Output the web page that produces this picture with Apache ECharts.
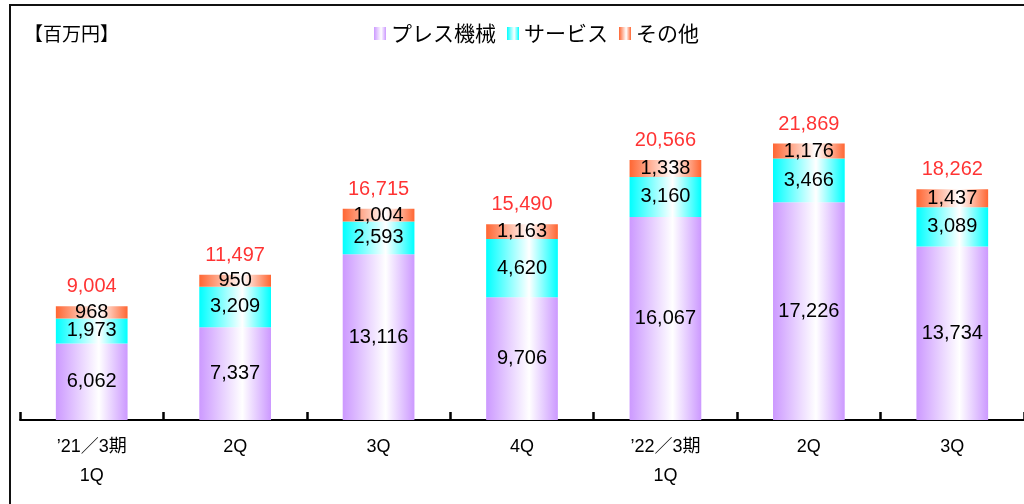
<!DOCTYPE html>
<html><head><meta charset="utf-8">
<script src="https://cdn.jsdelivr.net/npm/echarts@6/dist/echarts.min.js"></script>
<style>html,body{margin:0;padding:0;background:#fff}#c{width:1024px;height:504px}</style>
</head><body><div id="c"></div>
<script>
const categories = ['’21／3期\n1Q', '2Q', '3Q', '4Q', '’22／3期\n1Q', '2Q', '3Q'];
const seriesNames = ['プレス機械', 'サービス', 'その他'];
const pressValues = [6062, 7337, 13116, 9706, 16067, 17226, 13734];
const serviceValues = [1973, 3209, 2593, 4620, 3160, 3466, 3089];
const otherValues = [968, 950, 1004, 1163, 1338, 1176, 1437];
const totalValues = [9004, 11497, 16715, 15490, 20566, 21869, 18262];
const unitLabel = '【百万円】';

function grad(c) {
  return new echarts.graphic.LinearGradient(0, 0, 1, 0, [
    {offset: 0, color: c}, {offset: 0.6, color: '#FFFFFF'}, {offset: 1, color: c}
  ]);
}
const fmt = v => Number(v).toLocaleString('en-US');
const numFont = "'Liberation Sans', Arial, sans-serif";
const jpFont = "'Noto Sans CJK JP', sans-serif";

const inLabel = {show: true, position: 'inside', color: '#000', fontSize: 20, fontFamily: numFont,
  formatter: p => fmt(p.value)};

const chart = echarts.init(document.getElementById('c'));
chart.setOption({
  animation: false,
  graphic: [
    {type: 'rect', shape: {x: 10, y: 5, width: 1100, height: 600}, style: {fill: 'none', stroke: '#111', lineWidth: 2}, z: 100},
    {type: 'text', left: 24, top: 24, style: {text: unitLabel, fontSize: 19, fontFamily: jpFont, fill: '#000'}}
  ],
  legend: {
    data: seriesNames, left: 369, top: 18, icon: 'rect', itemWidth: 12, itemHeight: 13, itemGap: 11,
    textStyle: {fontSize: 21, fontFamily: jpFont, color: '#000'}
  },
  grid: {left: 20, right: -5, top: 104, bottom: 84},
  xAxis: {
    type: 'category', data: categories,
    axisLine: {lineStyle: {color: '#000', width: 2}},
    axisTick: {show: true, interval: 0, inside: true, length: 8, lineStyle: {color: '#000', width: 2.5}},
    axisLabel: {interval: 0, color: '#000', fontSize: 18, fontFamily: numFont + ", 'Noto Sans CJK JP'", lineHeight: 29, margin: 13}
  },
  yAxis: {type: 'value', min: 0, max: 25000, show: false, splitLine: {show: false}},
  series: [
    {name: seriesNames[0], type: 'bar', stack: 't', barWidth: '50%', data: pressValues,
     itemStyle: {color: grad('#CC99FF')}, label: inLabel},
    {name: seriesNames[1], type: 'bar', stack: 't', data: serviceValues,
     itemStyle: {color: grad('#00FFFF')}, label: inLabel},
    {name: seriesNames[2], type: 'bar', stack: 't', data: otherValues,
     itemStyle: {color: grad('#FF6633')}, label: inLabel},
    {name: 'total', type: 'scatter', data: totalValues, symbolSize: 1,
     itemStyle: {color: 'rgba(0,0,0,0)'}, silent: true,
     label: {show: true, position: 'top', distance: 9, color: '#FF0000', fontSize: 20, fontFamily: numFont,
       formatter: p => fmt(p.value)}}
  ]
});
</script></body></html>
